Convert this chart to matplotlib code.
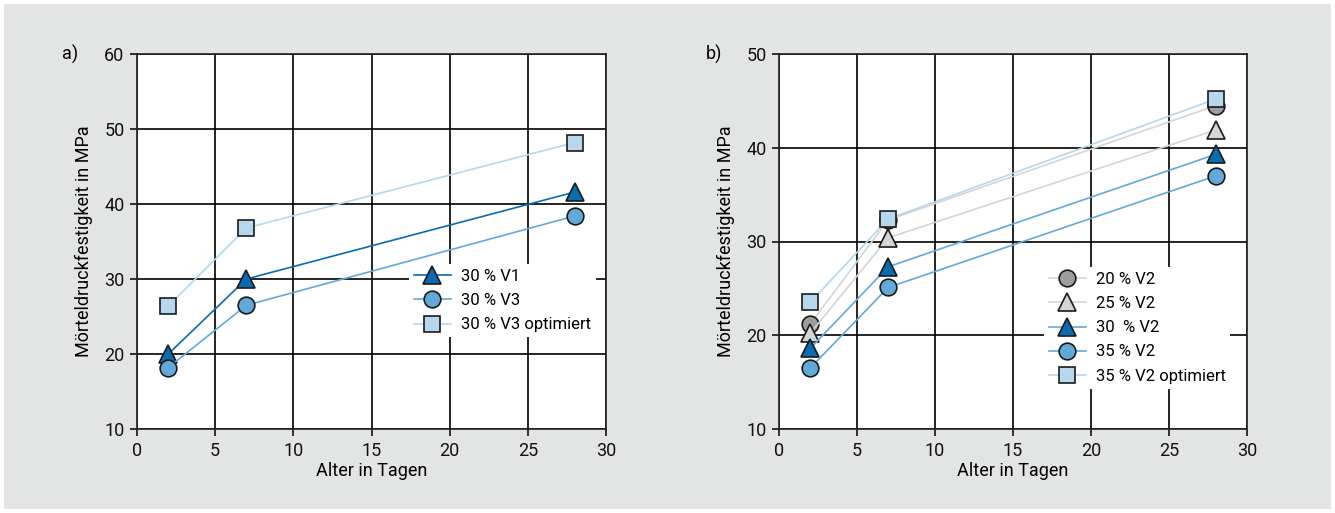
import matplotlib.pyplot as plt
from matplotlib.patches import Rectangle

plt.rcParams['font.family'] = ['Liberation Sans Narrow', 'Roboto', 'DejaVu Sans']

# panel a data
days = [2, 7, 28]
a_v1 = [20.0, 30.0, 41.6]
a_v3 = [18.2, 26.5, 38.4]
a_v3_opt = [26.4, 36.8, 48.2]

# panel b data
b_20 = [21.2, 32.3, 44.5]
b_25 = [20.2, 30.4, 41.9]
b_30 = [18.6, 27.3, 39.3]
b_35 = [16.5, 25.1, 37.0]
b_35_opt = [23.5, 32.4, 45.2]

c_dark = '#0a6bb1'
c_mid = '#62a9d7'
c_light = '#b6d7ee'
c_gray = '#9c9d9f'
c_lgray = '#d4d5d6'
bg = '#e3e4e4'

W, H = 1335, 513
fig = plt.figure(figsize=(W / 100, H / 100), dpi=100, facecolor='white')
fig.patches.append(Rectangle((4 / W, 4 / H), (W - 8) / W, (H - 8) / H,
                             transform=fig.transFigure, facecolor=bg,
                             edgecolor='none', zorder=-10))

def px_axes(l, t, r, b):
    return fig.add_axes([l / W, 1 - b / H, (r - l) / W, (b - t) / H])

def style(ax, ymin, ymax):
    ax.set_facecolor('white')
    ax.set_xlim(0, 30)
    ax.set_ylim(ymin, ymax)
    ax.set_xticks(range(0, 31, 5))
    ax.set_yticks(range(ymin, ymax + 1, 10))
    ax.grid(True, color='black', linewidth=1.2)
    ax.set_axisbelow(True)
    for s in ax.spines.values():
        s.set_linewidth(1.2)
        s.set_color('#222222')
    ax.tick_params(direction='out', length=5, width=1.2, labelsize=13,
                   colors='#111111', pad=4)
    ax.set_xlabel('Alter in Tagen', fontsize=13, labelpad=2)
    ax.set_ylabel('Mörteldruckfestigkeit in MPa', fontsize=13, labelpad=8)

def series(ax, y, marker, fc, lc, ms, label):
    ax.plot(days, y, color=lc, linewidth=1.2, marker=marker, markersize=ms,
            markerfacecolor=fc, markeredgecolor='#1a1a1a', markeredgewidth=1.2,
            label=label, clip_on=False, zorder=3)

def legend(ax, anchor):
    leg = ax.legend(loc='upper left', bbox_to_anchor=anchor, frameon=True,
                    fontsize=12, handlelength=2.2, labelspacing=0.55,
                    borderpad=0.3, handletextpad=0.6, borderaxespad=0)
    leg.get_frame().set_facecolor('white')
    leg.get_frame().set_edgecolor('none')
    leg.get_frame().set_alpha(1)

# panel a
ax1 = px_axes(137, 54, 606, 429)
style(ax1, 10, 60)
series(ax1, a_v1, '^', c_dark, c_dark, 13, '30 % V1')
series(ax1, a_v3, 'o', c_mid, c_mid, 12, '30 % V3')
series(ax1, a_v3_opt, 's', c_light, c_light, 11, '30 % V3 optimiert')
legend(ax1, (0.58, 0.44))
fig.text(62 / W, 1 - 54 / H, 'a)', fontsize=13, va='center', ha='left')

# panel b
ax2 = px_axes(779, 54, 1247, 429)
style(ax2, 10, 50)
series(ax2, b_20, 'o', c_gray, c_lgray, 12, '20 % V2')
series(ax2, b_25, '^', c_lgray, c_lgray, 13, '25 % V2')
series(ax2, b_30, '^', c_dark, c_mid, 13, '30  % V2')
series(ax2, b_35, 'o', c_mid, c_mid, 12, '35 % V2')
series(ax2, b_35_opt, 's', c_light, c_light, 11, '35 % V2 optimiert')
legend(ax2, (0.566, 0.432))
fig.text(706 / W, 1 - 54 / H, 'b)', fontsize=13, va='center', ha='left')

fig.savefig('out.png', dpi=100, facecolor=fig.get_facecolor())
